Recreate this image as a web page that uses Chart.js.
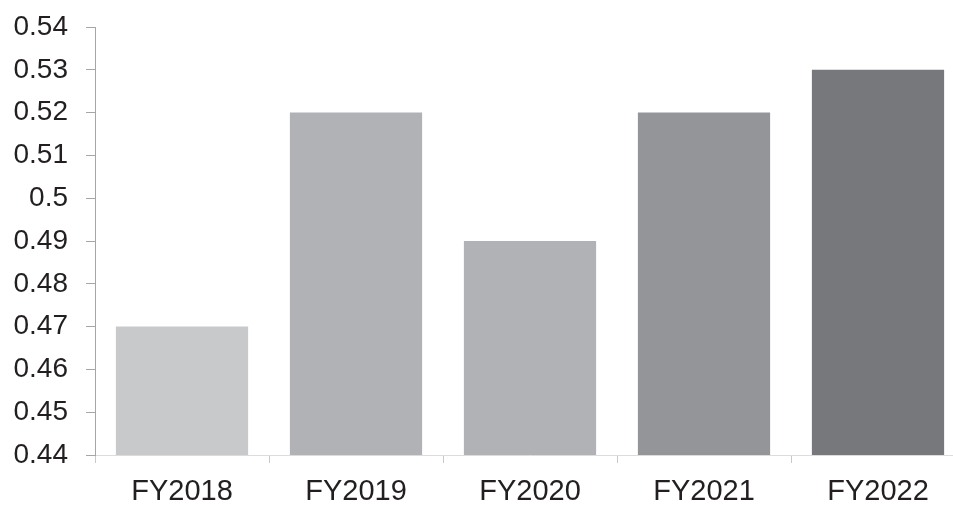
<!DOCTYPE html>
<html>
<head>
<meta charset="utf-8">
<script src="https://cdn.jsdelivr.net/npm/chart.js@4"></script>
<style>
  html, body { margin: 0; padding: 0; background: #fff; overflow: hidden; }
  #wrap { width: 953px; height: 505px; overflow: hidden; position: relative; }
  #graphic { position: absolute; left: 0; top: 0; }
</style>
</head>
<body>
<div id="wrap"><canvas id="graphic" width="965" height="505"></canvas></div>
<script>
var years = ['FY2018', 'FY2019', 'FY2020', 'FY2021', 'FY2022'];
var values = [0.47, 0.52, 0.49, 0.52, 0.53];
var barColors = ['#c8c9cb', '#b1b2b5', '#b1b2b5', '#949599', '#77787c'];
var yTicks = [0.44, 0.45, 0.46, 0.47, 0.48, 0.49, 0.5, 0.51, 0.52, 0.53, 0.54];

var ctx = document.getElementById('graphic').getContext('2d');

var graphic = new Chart(ctx, {
    type: 'bar',
    data: {
        labels: years,
        datasets: [{
            data: values,
            backgroundColor: barColors,
            borderWidth: 0,
            barPercentage: 0.76,
            categoryPercentage: 1
        }]
    },
    options: {
        responsive: false,
        animation: false,
        layout: { padding: { top: 27, right: 0, left: 0, bottom: 0 } },
        plugins: {
            legend: { display: false },
            tooltip: { enabled: false }
        },
        scales: {
            x: {
                grid: {
                    display: true,
                    drawOnChartArea: false,
                    drawTicks: true,
                    tickLength: 8,
                    color: '#c8c8c8'
                },
                border: { color: '#dcdcdc', width: 1 },
                ticks: {
                    color: '#231f20',
                    font: { family: 'Liberation Sans', size: 29 },
                    padding: 12,
                    maxRotation: 0
                },
                afterFit: function (scale) { scale.height = 50; }
            },
            y: {
                min: 0.44,
                max: 0.54,
                afterBuildTicks: function (scale) {
                    scale.ticks = yTicks.map(function (v) { return { value: v }; });
                },
                grid: {
                    display: true,
                    drawOnChartArea: false,
                    drawTicks: true,
                    tickLength: 9,
                    color: '#a6a6a6'
                },
                border: { color: '#a6a6a6', width: 1 },
                ticks: {
                    color: '#231f20',
                    font: { family: 'Liberation Sans', size: 28 },
                    padding: 18,
                    callback: function (v) { return String(Math.round(v * 100) / 100); }
                },
                afterFit: function (scale) {
                    scale.width = 95;
                    scale.paddingTop = 0;
                    scale.paddingBottom = 0;
                }
            }
        }
    }
});
</script>
</body>
</html>
